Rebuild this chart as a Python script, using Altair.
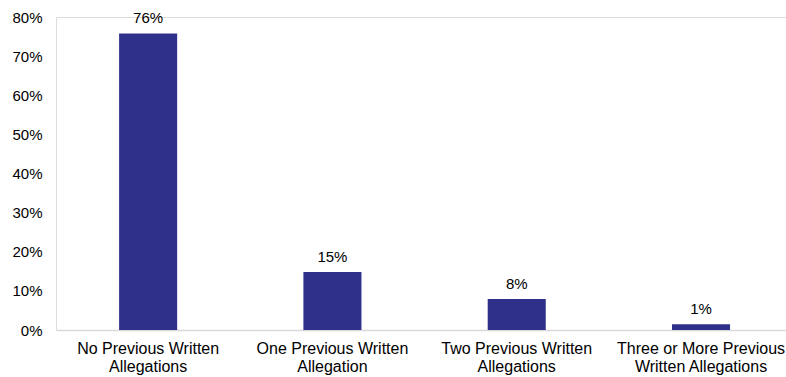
import altair as alt
import pandas as pd

categories = ["No Previous Written|Allegations", "One Previous Written|Allegation",
              "Two Previous Written|Allegations", "Three or More Previous|Written Allegations"]
values = [75.8, 14.8, 7.9, 1.45]
labels = ["76%", "15%", "8%", "1%"]
y_ticks = [0, 10, 20, 30, 40, 50, 60, 70, 80]

df = pd.DataFrame({"cat": categories, "value": values, "label": labels})

FONT = "Liberation Sans"

x = alt.X("cat:N", sort=categories, title=None,
          scale=alt.Scale(paddingInner=0.685, paddingOuter=0.323, align=0.53),
          axis=alt.Axis(labelAngle=0, labelExpr="split(datum.label, '|')",
                        labelFontSize=16, labelLineHeight=18, labelFont=FONT,
                        labelColor="#000000", ticks=False, labelPadding=10,
                        domainColor="#d9d9d9", domainWidth=1.5, labelLimit=300))
y = alt.Y("value:Q", title=None,
          scale=alt.Scale(domain=[0, 80], nice=False),
          axis=alt.Axis(values=y_ticks, labelExpr="datum.value + '%'",
                        labelFontSize=15, labelFont=FONT, labelColor="#000000",
                        labelOverlap=False, labelFlush=False,
                        grid=False, domain=False, ticks=False, labelPadding=14))

base = alt.Chart(df).encode(x=x, y=y)
bars = base.mark_bar(color="#2E3089")
text = base.mark_text(baseline="bottom", dy=-7, fontSize=15, font=FONT,
                      color="#000000").encode(text="label:N")

chart = alt.layer(bars, text).properties(
    width=730, height=313,
    autosize=alt.AutoSizeParams(type="none"),
    padding={"left": 56, "top": 17, "right": 0, "bottom": 47},
).configure_view(stroke=None).configure(background="white")

chart.save("out.html", embed_options={"renderer": "svg", "actions": False})
